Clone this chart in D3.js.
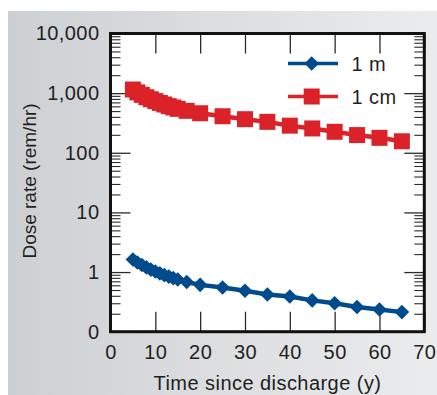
<!DOCTYPE html>
<html>
<head>
<meta charset="utf-8">
<script src="https://cdn.jsdelivr.net/npm/d3@7"></script>
<style>
  html, body { margin: 0; padding: 0; background: #ffffff; }
  svg { display: block; }
  text { font-family: "Liberation Sans", Arial, Helvetica, sans-serif; fill: #231f20; }
</style>
</head>
<body>
<svg id="chart" width="437" height="395"></svg>
<script>
// Years after discharge at which the dose rate was evaluated
const years = [5, 6, 7, 8, 9, 10, 11, 12, 13, 14, 15, 17, 20, 25, 30, 35, 40, 45, 50, 55, 60, 65];
// Dose rate (rem/hr) at 1 cm from the surface
const dose1cm = [1150, 1030, 935, 855, 790, 735, 685, 645, 605, 575, 545, 505, 460, 410, 366, 330, 285, 256, 225, 198, 178, 156];
// Dose rate (rem/hr) at 1 m from the surface
const dose1m = [1.62, 1.45, 1.31, 1.2, 1.1, 1.02, 0.95, 0.89, 0.84, 0.79, 0.75, 0.68, 0.61, 0.55, 0.485, 0.42, 0.39, 0.335, 0.30, 0.26, 0.235, 0.213];
// Axis ticks
const xTicks = [0, 10, 20, 30, 40, 50, 60, 70];
const yTickValues = [0.1, 1, 10, 100, 1000, 10000];
const yTickLabels = ["0", "1", "10", "100", "1,000", "10,000"];
const seriesNames = ["1 m", "1 cm"];

const svg = d3.select("#chart");
const W = 437, H = 395;
const plot = { left: 110.5, right: 424.3, top: 33.5, bottom: 331.7 };
const FONT = 20, SPACING = 0.45;

// Grey panel with a soft left-to-right gradient
const defs = svg.append("defs");
const grad = defs.append("linearGradient").attr("id", "panelGrad")
  .attr("x1", "0%").attr("y1", "0%").attr("x2", "100%").attr("y2", "0%");
grad.append("stop").attr("offset", "0%").attr("stop-color", "#cdd0d3");
grad.append("stop").attr("offset", "100%").attr("stop-color", "#ebeced");
svg.append("rect").attr("x", 8).attr("y", 11).attr("width", W - 8).attr("height", H - 11)
  .attr("fill", "url(#panelGrad)");

const x = d3.scaleLinear().domain([0, 70]).range([plot.left, plot.right]);
const y = d3.scaleLog().domain([0.1, 10000]).range([plot.bottom, plot.top]);

// Plot area
svg.append("rect").attr("x", plot.left).attr("y", plot.top)
  .attr("width", plot.right - plot.left).attr("height", plot.bottom - plot.top)
  .attr("fill", "#ffffff");

// Minor log ticks (2..9 within each decade)
const minor = [];
for (let e = -1; e < 4; e++) {
  for (let m = 2; m <= 9; m++) minor.push(m * Math.pow(10, e));
}

const tickColor = "#2b2b2b";
function drawYAxis(axisGen, xpos) {
  const gMinor = svg.append("g").attr("transform", `translate(${xpos},0)`)
    .call(axisGen(y).tickValues(minor).tickSize(-10).tickFormat(""));
  gMinor.select(".domain").remove();
  gMinor.selectAll("line").attr("stroke", tickColor).attr("stroke-width", 1.1);
  const gMajor = svg.append("g").attr("transform", `translate(${xpos},0)`)
    .call(axisGen(y).tickValues(yTickValues).tickSize(-20).tickFormat(""));
  gMajor.select(".domain").remove();
  gMajor.selectAll("line").attr("stroke", tickColor).attr("stroke-width", 1.3);
}
drawYAxis(d3.axisLeft, plot.left);
drawYAxis(d3.axisRight, plot.right);

// Left-side tick labels
const yLab = svg.append("g").attr("transform", `translate(${plot.left},0)`)
  .call(d3.axisLeft(y).tickValues(yTickValues).tickSize(0).tickPadding(11)
    .tickFormat((d, i) => yTickLabels[i]));
yLab.select(".domain").remove();
yLab.selectAll("text").attr("font-size", FONT).attr("letter-spacing", SPACING)
  .attr("font-family", "Liberation Sans, Arial, sans-serif").attr("fill", "#231f20");

// X ticks on the top and bottom edges, pointing inward
const xBottom = svg.append("g").attr("transform", `translate(0,${plot.bottom})`)
  .call(d3.axisBottom(x).tickValues(xTicks).tickSize(-20).tickFormat(""));
xBottom.select(".domain").remove();
xBottom.selectAll("line").attr("stroke", tickColor).attr("stroke-width", 1.3);
const xTop = svg.append("g").attr("transform", `translate(0,${plot.top})`)
  .call(d3.axisTop(x).tickValues(xTicks).tickSize(-20).tickFormat(""));
xTop.select(".domain").remove();
xTop.selectAll("line").attr("stroke", tickColor).attr("stroke-width", 1.3);

const xLab = svg.append("g").attr("transform", `translate(0,${plot.bottom})`)
  .call(d3.axisBottom(x).tickValues(xTicks).tickSize(0).tickPadding(13).tickFormat(d3.format("d")));
xLab.select(".domain").remove();
xLab.selectAll("text").attr("font-size", FONT).attr("letter-spacing", SPACING)
  .attr("font-family", "Liberation Sans, Arial, sans-serif").attr("fill", "#231f20");

// Frame
svg.append("rect").attr("x", plot.left).attr("y", plot.top)
  .attr("width", plot.right - plot.left).attr("height", plot.bottom - plot.top)
  .attr("fill", "none").attr("stroke", "#111").attr("stroke-width", 3);

// Axis titles
svg.append("text").attr("x", 267.5).attr("y", 389.5)
  .attr("text-anchor", "middle").attr("font-size", FONT).attr("letter-spacing", SPACING)
  .text("Time since discharge (y)");
svg.append("text").attr("transform", `translate(35.5,181) rotate(-90)`)
  .attr("text-anchor", "middle").attr("font-size", 19)
  .text("Dose rate (rem/hr)");

// Series
const blue = "#004b8d", red = "#dc2229";
const line = d3.line().x(d => x(d[0])).y(d => y(d[1]));
const s1m = years.map((t, i) => [t, dose1m[i]]);
const s1cm = years.map((t, i) => [t, dose1cm[i]]);

const diamond = d3.symbol().type(d3.symbolDiamond2).size(136);
const square = d3.symbol().type(d3.symbolSquare).size(256);

svg.append("path").datum(s1m).attr("d", line).attr("fill", "none")
  .attr("stroke", blue).attr("stroke-width", 4.5);
svg.append("g").selectAll("path").data(s1m).join("path")
  .attr("transform", d => `translate(${x(d[0])},${y(d[1])})`)
  .attr("d", diamond).attr("fill", blue);

svg.append("path").datum(s1cm).attr("d", line).attr("fill", "none")
  .attr("stroke", red).attr("stroke-width", 4.5);
svg.append("g").selectAll("path").data(s1cm).join("path")
  .attr("transform", d => `translate(${x(d[0])},${y(d[1])})`)
  .attr("d", square).attr("fill", red);

// Legend
const legend = svg.append("g");
const legendItems = [
  { name: seriesNames[0], color: blue, sym: diamond, cy: 63.5 },
  { name: seriesNames[1], color: red, sym: square, cy: 96.5 }
];
legendItems.forEach(it => {
  legend.append("line").attr("x1", 288).attr("x2", 338).attr("y1", it.cy).attr("y2", it.cy)
    .attr("stroke", it.color).attr("stroke-width", 3.5);
  legend.append("path").attr("transform", `translate(311.7,${it.cy})`).attr("d", it.sym).attr("fill", it.color);
  legend.append("text").attr("x", 351.5).attr("y", it.cy + 7).attr("font-size", FONT)
    .attr("letter-spacing", SPACING).text(it.name);
});
</script>
</body>
</html>
